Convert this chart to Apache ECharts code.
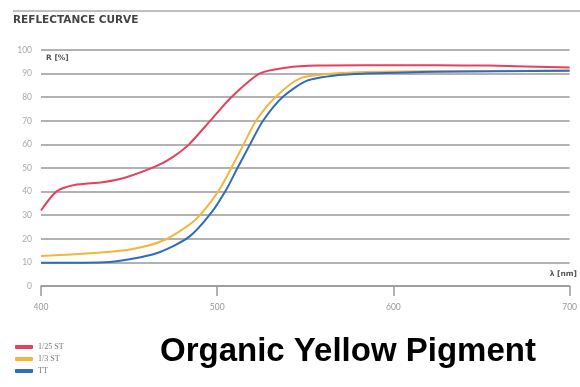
<!DOCTYPE html>
<html><head><meta charset="utf-8">
<script src="https://cdn.jsdelivr.net/npm/echarts@6/dist/echarts.min.js"></script>
<style>html,body{margin:0;padding:0;background:#fff}#c{width:580px;height:387px}</style>
</head><body><div id="c"></div>
<script>
const seriesNames = ['1/25 ST', '1/3 ST', 'TT'];
const xTicks = [400, 500, 600, 700];
const yTicks = [0, 10, 20, 30, 40, 50, 60, 70, 80, 90, 100];
const redLambda = [400, 408.7, 419, 435, 448, 466, 475, 484, 496, 508, 524, 539, 557, 584, 624, 654, 700];
const redR      = [32, 40, 42.8, 44, 46, 51, 54.7, 60, 70, 80, 90, 92.5, 93.4, 93.5, 93.5, 93.4, 92.6];
const yelLambda = [400, 430, 452, 470, 487.5, 500.5, 508, 515, 522, 533, 547, 566, 584, 624, 700];
const yelR      = [12.7, 14, 15.7, 19.5, 28, 40, 50, 60, 70, 80, 88, 90, 90.7, 91, 91.3];
const bluLambda = [400, 439, 466, 484, 497, 506, 511.5, 518.6, 526, 537, 551, 569, 584, 624, 700];
const bluR      = [9.8, 10.2, 14, 20.8, 31.4, 42, 50, 60, 70, 80, 87, 89.4, 90, 90.8, 91.2];

const pair = (xs, ys) => xs.map((x, i) => [x, ys[i]]);
const colors = ['#e5405e', '#f4b63c', '#2f6cc0'];
const chart = echarts.init(document.getElementById('c'));
const mk = (name, data, color) => ({
  name, type: 'line', data, smooth: 0.25, showSymbol: false, symbol: 'none',
  lineStyle: { color, width: 2 }, itemStyle: { color }
});
chart.setOption({
  animation: false,
  grid: { left: 41, right: 2, top: 50, bottom: 101 },
  xAxis: {
    type: 'value', min: xTicks[0], max: xTicks[xTicks.length - 1], interval: 100,
    axisLine: { show: true, lineStyle: { color: '#999', width: 1.5 } },
    axisTick: { show: true, length: 10, inside: false, lineStyle: { color: '#999', width: 1.5 } },
    axisLabel: { color: '#999', fontSize: 8.5, fontFamily: 'Lato', margin: 17 },
    splitLine: { show: false }
  },
  yAxis: {
    type: 'value', min: yTicks[0], max: yTicks[yTicks.length - 1], interval: 10,
    axisLine: { show: false }, axisTick: { show: false },
    axisLabel: { color: '#aaa', fontSize: 8.5, fontFamily: 'Lato', margin: 9 },
    splitLine: { show: true, lineStyle: { color: '#999', width: 1.5 } }
  },
  legend: {
    orient: 'vertical', left: 10, top: 338, itemWidth: 18, itemHeight: 4, itemGap: 4,
    icon: 'roundRect',
    textStyle: { fontFamily: 'Liberation Serif', fontSize: 8, color: '#777' },
    data: seriesNames
  },
  series: [
    mk(seriesNames[0], pair(redLambda, redR), colors[0]),
    mk(seriesNames[1], pair(yelLambda, yelR), colors[1]),
    mk(seriesNames[2], pair(bluLambda, bluR), colors[2])
  ],
  graphic: [
    { type: 'line', shape: { x1: 13, y1: 11, x2: 580, y2: 11 }, style: { stroke: '#aaa', lineWidth: 1.5 } },
    { type: 'text', left: 13, top: 15, style: { text: 'REFLECTANCE CURVE', font: 'bold 10.5px "DejaVu Sans"', fill: '#444' } },
    { type: 'text', left: 46, top: 54, style: { text: 'R [%]', font: 'bold 7.5px "DejaVu Sans"', fill: '#555' } },
    { type: 'text', right: 3, top: 270, style: { text: 'λ [nm]', font: 'bold 7.5px "DejaVu Sans"', fill: '#555' } },
    { type: 'text', left: 160, top: 335, style: { text: 'Organic Yellow Pigment', font: 'bold 33px "Liberation Sans", Arial', fill: '#000' } }
  ]
});
</script></body></html>
